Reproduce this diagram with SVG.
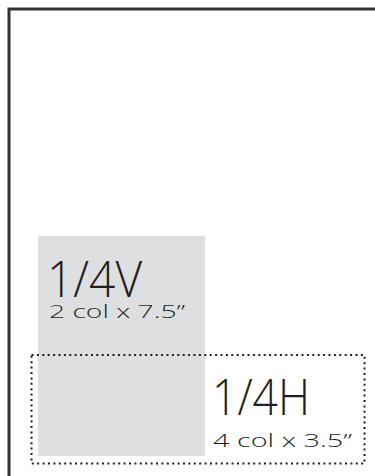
<svg xmlns="http://www.w3.org/2000/svg" width="375" height="476" viewBox="0 0 375 476">
<style>
.big{font-family:"Open Sans","Liberation Sans",sans-serif;font-weight:300;font-size:49px;fill:#231f20}
.small{font-family:"Open Sans","Liberation Sans",sans-serif;font-weight:300;font-size:18px;fill:#231f20}
</style>
<rect x="0" y="0" width="375" height="476" fill="#ffffff"/>
<g id="page">
<rect x="9" y="9" width="380" height="480" fill="none" stroke="#333333" stroke-width="3"/>
</g>
<g id="quarter-v">
<rect x="38" y="236" width="167" height="220" fill="#dedfe1"/>
<text class="big" x="47" y="297" textLength="95" lengthAdjust="spacingAndGlyphs">1/4V</text>
<text class="small" x="49" y="317.5" textLength="136" lengthAdjust="spacingAndGlyphs">2 col x 7.5”</text>
</g>
<g id="quarter-h">
<rect x="31.5" y="355" width="333" height="108.5" fill="none" stroke="#231f20" stroke-width="2" stroke-dasharray="2 3.4"/>
<text class="big" x="212" y="415" textLength="98" lengthAdjust="spacingAndGlyphs">1/4H</text>
<text class="small" x="213" y="447" textLength="139" lengthAdjust="spacingAndGlyphs">4 col x 3.5”</text>
</g>
</svg>
